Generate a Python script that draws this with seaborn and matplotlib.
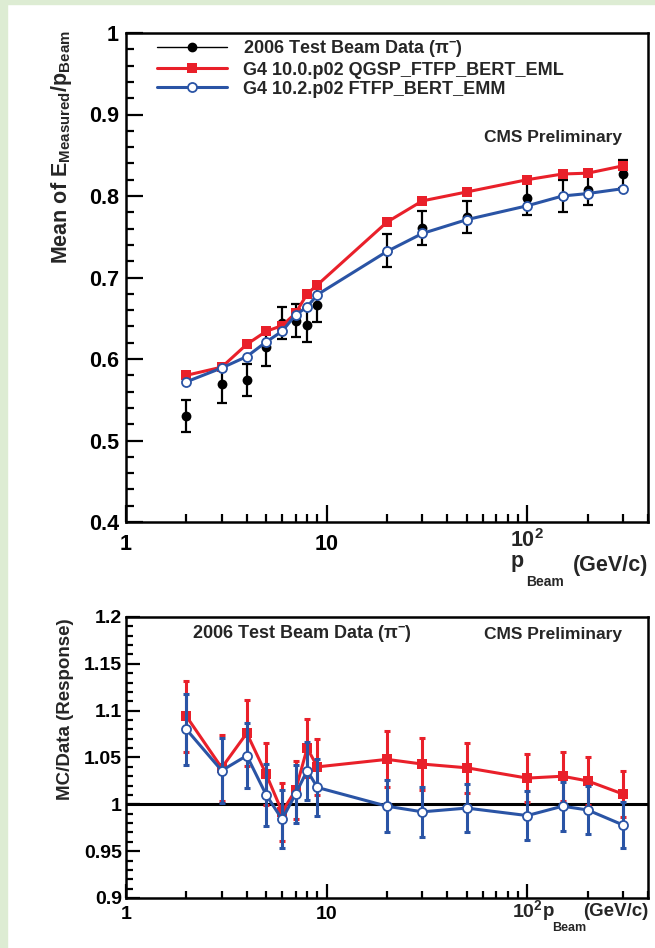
import numpy as np
import pandas as pd
import matplotlib
matplotlib.use("Agg")
import matplotlib.pyplot as plt
import matplotlib.transforms as mtransforms
import seaborn as sns
from matplotlib.lines import Line2D
from matplotlib.patches import Rectangle
from matplotlib.ticker import LogLocator, MultipleLocator, NullFormatter, FuncFormatter

# Beam momenta (GeV/c)
p_beam = [2, 3, 4, 5, 6, 7, 8, 9, 20, 30, 50, 100, 150, 200, 300]

# Mean response E_measured / p_beam
data_resp = [0.530, 0.569, 0.574, 0.615, 0.644, 0.647, 0.642, 0.666,
             0.733, 0.761, 0.774, 0.798, 0.800, 0.807, 0.827]
data_err = [0.020, 0.023, 0.020, 0.023, 0.020, 0.020, 0.021, 0.020,
            0.020, 0.021, 0.020, 0.021, 0.020, 0.018, 0.017]
qgsp_resp = [0.580, 0.590, 0.618, 0.634, 0.641, 0.656, 0.680, 0.691,
             0.768, 0.794, 0.805, 0.820, 0.827, 0.828, 0.837]
ftfp_resp = [0.572, 0.589, 0.603, 0.621, 0.634, 0.654, 0.664, 0.679,
             0.732, 0.754, 0.771, 0.788, 0.800, 0.803, 0.809]

# MC / Data ratios
qgsp_ratio = [1.094, 1.039, 1.076, 1.032, 0.992, 1.015, 1.060, 1.040,
              1.048, 1.043, 1.039, 1.028, 1.030, 1.025, 1.011]
qgsp_ratio_err = [0.038, 0.035, 0.035, 0.033, 0.031, 0.031, 0.031, 0.030,
                  0.030, 0.028, 0.027, 0.026, 0.026, 0.026, 0.025]
ftfp_ratio = [1.080, 1.036, 1.052, 1.010, 0.984, 1.011, 1.036, 1.018,
              0.998, 0.992, 0.996, 0.988, 0.998, 0.994, 0.978]
ftfp_ratio_err = [0.038, 0.035, 0.035, 0.033, 0.031, 0.031, 0.031, 0.030,
                  0.028, 0.027, 0.026, 0.026, 0.026, 0.026, 0.025]

legend_labels = ["2006 Test Beam Data (\u03c0$^{-}$)",
                 "G4 10.0.p02 QGSP_FTFP_BERT_EML",
                 "G4 10.2.p02 FTFP_BERT_EMM"]

RED = "#e9202a"
BLUE = "#2a54a5"

sns.set_theme(style="ticks")
plt.rcParams["font.family"] = ["Liberation Sans", "DejaVu Sans"]
plt.rcParams["font.weight"] = "bold"
plt.rcParams["mathtext.fontset"] = "custom"
plt.rcParams["mathtext.rm"] = "Liberation Sans:bold"
plt.rcParams["mathtext.it"] = "Liberation Sans:bold"
plt.rcParams["mathtext.bf"] = "Liberation Sans:bold"
plt.rcParams["mathtext.default"] = "rm"

df = pd.DataFrame({
    "p": p_beam, "data": data_resp, "data_err": data_err,
    "qgsp": qgsp_resp, "ftfp": ftfp_resp,
    "qgsp_ratio": qgsp_ratio, "qgsp_ratio_err": qgsp_ratio_err,
    "ftfp_ratio": ftfp_ratio, "ftfp_ratio_err": ftfp_ratio_err,
})

fig = plt.figure(figsize=(6.55, 9.48), dpi=100)
fig.patch.set_facecolor("white")
# light green page border
fig.add_artist(Rectangle((0, 0), 7 / 655, 1, transform=fig.transFigure,
                         color="#ddecd3", zorder=-10))
fig.add_artist(Rectangle((0, 1 - 4 / 948), 1, 4 / 948, transform=fig.transFigure,
                         color="#ddecd3", zorder=-10))

ax1 = fig.add_axes([126 / 655, 1 - 522 / 948, 522 / 655, 489 / 948])
ax2 = fig.add_axes([126 / 655, 1 - 898 / 948, 522 / 655, 281 / 948])

for ax in (ax1, ax2):
    ax.set_xscale("log")
    ax.set_xlim(1, 400)

# ---- top panel: response
ax1.errorbar(df["p"], df["data"], yerr=df["data_err"], fmt="none", ecolor="black",
             elinewidth=1.6, capsize=3.5, capthick=1.6, zorder=2)
sns.scatterplot(data=df, x="p", y="data", color="black", s=50, edgecolor="black",
                linewidth=0, ax=ax1, zorder=3)
sns.lineplot(data=df, x="p", y="qgsp", color=RED, lw=2.2, marker="s", markersize=6.5,
             mec=RED, mew=0, ax=ax1, zorder=4)
sns.lineplot(data=df, x="p", y="ftfp", color=BLUE, lw=2.2, marker="o", markersize=6.5,
             mfc="white", mec=BLUE, mew=1.3, ax=ax1, zorder=5)
ax1.set_ylim(0.4, 1.0)
ax1.yaxis.set_major_locator(MultipleLocator(0.1))
ax1.yaxis.set_minor_locator(MultipleLocator(0.02))

handles = [
    Line2D([], [], color="black", lw=1.0, marker="o", markersize=6),
    Line2D([], [], color=RED, lw=2.2, marker="s", markersize=6.5, mew=0),
    Line2D([], [], color=BLUE, lw=2.2, marker="o", markersize=6.5, mfc="white", mew=1.3),
]
ax1.legend(handles, legend_labels, loc="upper left", bbox_to_anchor=(0.059, 0.989),
           frameon=False, borderpad=0, borderaxespad=0, handlelength=3.9,
           handletextpad=0.9, labelspacing=0.12, fontsize=13)
ax1.text(0.95, 0.787, "CMS Preliminary", transform=ax1.transAxes, ha="right",
         va="center", fontsize=12.5)

# ---- bottom panel: MC / data
ax2.axhline(1.0, color="black", lw=2.2, zorder=1)
ax2.errorbar(df["p"], df["qgsp_ratio"], yerr=df["qgsp_ratio_err"], fmt="none",
             ecolor=RED, elinewidth=2.2, capsize=2.5, capthick=2.2, zorder=2)
sns.lineplot(data=df, x="p", y="qgsp_ratio", color=RED, lw=2.2, marker="s",
             markersize=6.5, mec=RED, mew=0, ax=ax2, zorder=3)
ax2.errorbar(df["p"], df["ftfp_ratio"], yerr=df["ftfp_ratio_err"], fmt="none",
             ecolor=BLUE, elinewidth=2.2, capsize=2.5, capthick=2.2, zorder=4)
sns.lineplot(data=df, x="p", y="ftfp_ratio", color=BLUE, lw=2.2, marker="o",
             markersize=6.5, mfc="white", mec=BLUE, mew=1.3, ax=ax2, zorder=5)
ax2.set_ylim(0.9, 1.2)
ax2.yaxis.set_major_locator(MultipleLocator(0.05))
ax2.yaxis.set_minor_locator(MultipleLocator(0.01))
ax2.text(0.126, 0.943, legend_labels[0], transform=ax2.transAxes, ha="left",
         va="center", fontsize=13)
ax2.text(0.95, 0.936, "CMS Preliminary", transform=ax2.transAxes, ha="right",
         va="center", fontsize=12.5)

# ---- common axis styling
for ax, fs, maj, ypad, lab_y in ((ax1, 15.5, 12, 5, -0.037), (ax2, 14, 10, 3, -0.043)):
    ax.set_xticks([1, 10, 100], labels=["1", "10", ""])
    ax.xaxis.set_minor_locator(LogLocator(base=10, subs=range(2, 10), numticks=20))
    ax.xaxis.set_minor_formatter(NullFormatter())
    ax.yaxis.set_major_formatter(FuncFormatter(lambda v, pos: "%g" % round(v, 3)))
    ax.tick_params(which="both", direction="in", top=False, right=False,
                   width=1.6, colors="black", labelsize=fs)
    ax.tick_params(which="major", length=maj)
    ax.tick_params(which="minor", length=maj / 2)
    ax.tick_params(axis="x", pad=9 if ax is ax1 else 6)
    ax.tick_params(axis="y", pad=ypad)
    ax.set_xlabel("")
    ax.set_ylabel("")
    # 10^2 label sits a little higher than the others (ROOT style)
    trans = mtransforms.blended_transform_factory(ax.transData, ax.transAxes)
    ax.text(100, lab_y, r"$10^{2}$", transform=trans, ha="center", va="center",
            fontsize=fs)
    for s in ax.spines.values():
        s.set_linewidth(1.8)
        s.set_color("black")

# axis titles (ROOT style, placed by hand)
fig.text(62 / 655, 1 - 30 / 948,
         r"Mean of E$_{\mathrm{Measured}}$/p$_{\mathrm{Beam}}$",
         rotation=90, ha="center", va="top", fontsize=15.5)
fig.text(66 / 655, 1 - 709 / 948, "MC/Data (Response)", rotation=90,
         ha="center", va="center", fontsize=13.5)

fig.text(517 / 655, 1 - 562 / 948, "p", ha="center", va="center", fontsize=15.5)
fig.text(545 / 655, 1 - 582 / 948, "Beam", ha="center", va="center", fontsize=10)
fig.text(648 / 655, 1 - 565 / 948, "(GeV/c)", ha="right", va="center", fontsize=15.5)

fig.text(549 / 655, 1 - 911 / 948, "p", ha="center", va="center", fontsize=13.5)
fig.text(569 / 655, 1 - 928 / 948, "Beam", ha="center", va="center", fontsize=9)
fig.text(648 / 655, 1 - 912 / 948, "(GeV/c)", ha="right", va="center", fontsize=13.5)

fig.savefig("out.png", dpi=100)
